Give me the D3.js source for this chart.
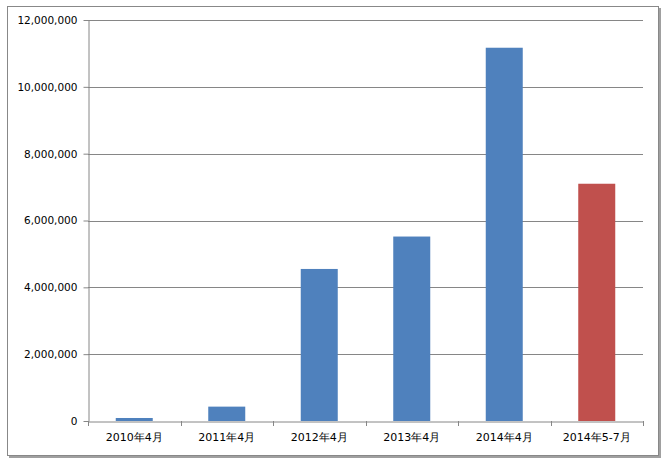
<!DOCTYPE html>
<html><head><meta charset="utf-8">
<script src="https://cdn.jsdelivr.net/npm/d3@7"></script>
<style>body{margin:0;background:#fff}svg{display:block}</style>
</head><body>
<script>
const categories = ["2010年4月","2011年4月","2012年4月","2013年4月","2014年4月","2014年5-7月"];
const values = [90000, 430000, 4550000, 5520000, 11170000, 7100000];
const barColors = ["#4F81BD","#4F81BD","#4F81BD","#4F81BD","#4F81BD","#C0504D"];
const yTicks = [0,2000000,4000000,6000000,8000000,10000000,12000000];

const W=670,H=464;
const svg=d3.select("body").append("svg").attr("width",W).attr("height",H);
// frame with shadow
svg.append("rect").attr("x",9).attr("y",8).attr("width",652).attr("height",450).attr("fill","#a0a0a0");
svg.append("rect").attr("x",7.5).attr("y",6.5).attr("width",651).attr("height",449).attr("fill","#fff").attr("stroke","#888").attr("stroke-width",1);

const L=88,R=643,T=20,B=421;
const x=d3.scaleBand().domain(categories).range([L,R]).paddingInner(0.6).paddingOuter(0.3);
const xb=d3.scaleBand().domain(categories).range([L,R]);
const y=d3.scaleLinear().domain([0,12000000]).range([B,T]);

const font="'DejaVu Sans', Verdana, sans-serif";
// gridlines
svg.append("g").selectAll("line").data(yTicks.filter(d=>d>0)).join("line")
 .attr("x1",L).attr("x2",R).attr("y1",d=>Math.round(y(d))+0.5).attr("y2",d=>Math.round(y(d))+0.5)
 .attr("stroke","#868686");

// bars
svg.append("g").selectAll("rect").data(categories).join("rect")
 .attr("x",d=>x(d)).attr("width",x.bandwidth())
 .attr("y",(d,i)=>y(values[i])).attr("height",(d,i)=>B-y(values[i]))
 .attr("fill",(d,i)=>barColors[i]);

// y axis
const ya=svg.append("g").attr("transform",`translate(${L+0.5},0)`)
 .call(d3.axisLeft(y).tickValues(yTicks).tickFormat(d3.format(",")).tickSize(5).tickSizeOuter(0));
ya.select(".domain").attr("stroke","#868686");
ya.selectAll(".tick line").attr("stroke","#868686");
ya.selectAll(".tick text").attr("font-family",font).attr("font-size",10.5).attr("fill","#000").attr("x",-11);

// x axis
const xa=svg.append("g").attr("transform",`translate(0,${B+0.5})`)
 .call(d3.axisBottom(xb).tickSize(0).tickSizeOuter(0));
xa.select(".domain").attr("stroke","#868686");
xa.selectAll(".tick text").attr("font-family",font).attr("font-size",11).attr("fill","#000").attr("dy","0.71em").attr("y",12);
// category boundary ticks
svg.append("g").selectAll("line").data(d3.range(categories.length+1)).join("line")
 .attr("x1",i=>Math.round(L+i*xb.step())+0.5).attr("x2",i=>Math.round(L+i*xb.step())+0.5)
 .attr("y1",B).attr("y2",B+5).attr("stroke","#868686");
</script>
</body></html>
